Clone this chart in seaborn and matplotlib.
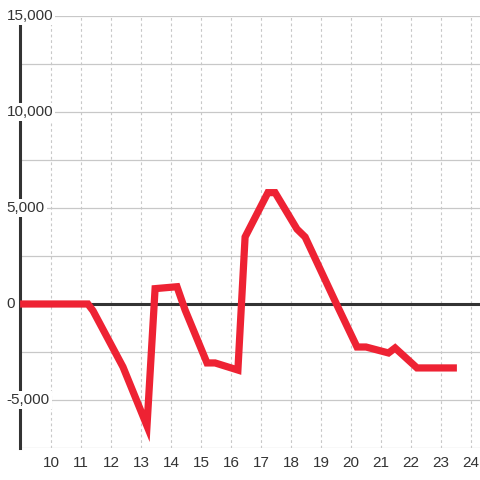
import matplotlib
matplotlib.use("Agg")
import matplotlib.pyplot as plt
import matplotlib.transforms as mtransforms
import seaborn as sns

# valores
x_vals = [8.97, 11.23, 11.4, 12.4, 13.2, 13.47, 14.2, 14.47, 15.2, 15.47,
          16.23, 16.47, 17.23, 17.47, 18.2, 18.47, 19.47, 20.2, 20.5,
          21.25, 21.47, 22.2, 23.53]
y_vals = [0, 0, -350, -3280, -6350, 800, 900, -310, -3070, -3070,
          -3440, 3490, 5800, 5800, 3900, 3490, 150, -2240, -2240,
          -2550, -2290, -3330, -3330]

x_ticks = list(range(10, 25))
y_ticks = [15000, 10000, 5000, 0, -5000]
y_labels = ["15,000", "10,000", "5,000", "0", "-5,000"]

sns.set_theme(style="white")
plt.rcParams["font.family"] = ["Liberation Sans", "DejaVu Sans"]

fig = plt.figure(figsize=(4.8, 4.8), dpi=100)
ax = fig.add_axes([20 / 480, 32 / 480, 460 / 480, 432 / 480])

# grade
for v in range(-7500, 15001, 2500):
    ax.axhline(v, color="#c8c8c8", linewidth=0.9, zorder=1)
for t in x_ticks:
    ax.axvline(t, color="#c8c8c8", linewidth=0.8, linestyle=(0, (2.5, 2.5)), zorder=1)

ax.axhline(0, color="#333333", linewidth=2.2, zorder=3)

sns.lineplot(x=x_vals, y=y_vals, ax=ax, color="#ee2233", linewidth=5.2,
             sort=False, zorder=4)
for ln in ax.lines[-1:]:
    ln.set_solid_joinstyle("miter")
    ln.set_solid_capstyle("butt")

ax.set_xlim(8.967, 24.3)
ax.set_ylim(-7500, 15000)

ax.set_xticks(x_ticks)
ax.set_xticklabels([str(t) for t in x_ticks])
ax.tick_params(axis="x", length=0, pad=5.5, labelsize=11, labelcolor="#333333")
ax.set_yticks([])

for side in ["top", "right", "bottom"]:
    ax.spines[side].set_visible(False)
ax.spines["left"].set_color("#333333")
ax.spines["left"].set_linewidth(2.2)

# rotulos do eixo y sobre o eixo, com fundo branco
trans = mtransforms.blended_transform_factory(ax.transAxes, ax.transData)
for v, lab in zip(y_ticks, y_labels):
    ax.text((6.5 - 20) / 460, v, lab, transform=trans, ha="left", va="center",
            fontsize=11, color="#333333", zorder=6, clip_on=False,
            bbox=dict(facecolor="white", edgecolor="none", pad=1.5))

ax.set_xlabel("")
ax.set_ylabel("")
fig.savefig("out.png", dpi=100)
